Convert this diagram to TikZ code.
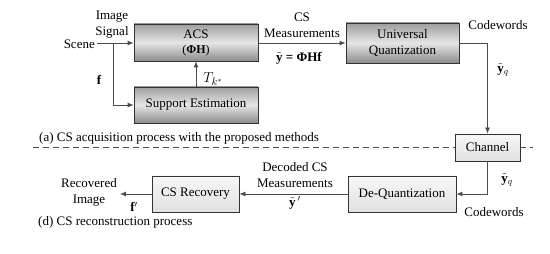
\documentclass[tikz,border=0pt]{standalone}
\usepackage{fontspec}
\setmainfont{Liberation Serif}
\usetikzlibrary{positioning,arrows.meta}

\begin{document}
\begin{tikzpicture}[
  x=1pt,y=-1pt,
  font=\fontsize{13}{16}\selectfont,
  >={Latex[length=6pt,width=5pt]},
  blockdark/.style={rectangle,draw=black!80,line width=0.8pt,align=center,
                    top color=black!38,bottom color=black!45,middle color=black!10,
                    inner sep=0pt},
  blocklight/.style={rectangle,draw=black!80,line width=0.8pt,align=center,
                     top color=black!3,bottom color=black!12,inner sep=0pt},
  arr/.style={->,line width=0.8pt,black!70},
  lbl/.style={align=center,inner sep=0pt}
]
\useasboundingbox (0,0) rectangle (550,254);

%% ================= acquisition =================
\node[blockdark,minimum width=124,minimum height=37] (acs)  at (196,42.5)
  {ACS\\[-1pt]{\fontsize{12}{14}\selectfont(\textbf{ΦH})}};
\node[blockdark,minimum width=124,minimum height=36] (supp) at (196,105) {Support Estimation};
\node[blockdark,minimum width=113,minimum height=40] (uq)   at (402.5,43) {Universal\\Quantization};

\node[lbl,anchor=east] (scene) at (95,44) {Scene};
\coordinate (tap) at (113,43);
\draw[arr] ([xshift=2pt]scene.east |- tap) -- (tap -| acs.west);
\draw[arr] (tap) |- (supp.west);
\draw[arr] (supp) -- (acs);
\draw[arr] (acs.east |- tap) -- (tap -| uq.west);

\node[lbl] (sig)   at (112,25)  {Image\\Signal};
\node[lbl] (f)     at (99,80)   {$\mathbf{f}$};
\node[lbl] (tk)    at (213,79)  {\fontsize{15}{17}\selectfont$T_{k^*}$};
\node[lbl] (meas)  at (302,25)  {CS\\Measurements};
\node[lbl] (yt)    at (299,58)  {$\tilde{\mathbf{y}}$ \textbf{= ΦHf}};
\node[lbl] (cw1)   at (498,25)  {Codewords};
\node[lbl] (yq1)   at (503,70)  {$\tilde{\mathbf{y}}_q$};

\node[lbl,anchor=west] (capa) at (39,138)
  {(a) CS acquisition process with the proposed methods};

%% ================= channel =================
\node[blocklight,minimum width=65,minimum height=27] (chan) at (487.5,147.5) {Channel};
\draw[arr] (uq.east |- tap) -| (chan.north);

\coordinate (dl) at (33,147.5);
\coordinate (dr) at (533,147.5);
\draw[black!70,line width=0.8pt,dash pattern=on 6pt off 4pt] (dl) -- (chan.west);
\draw[black!70,line width=0.8pt,dash pattern=on 6pt off 4pt] (chan.east) -- (dr);

%% ================= reconstruction =================
\node[blocklight,minimum width=108,minimum height=36] (deq) at (402,194) {De-Quantization};
\node[blocklight,minimum width=87,minimum height=36]  (rec) at (195.5,194) {CS Recovery};
\node[lbl] (recimg) at (89,192) {Recovered\\Image};

\draw[arr] (chan.south) |- (deq.east);
\draw[arr] (deq) -- (rec);
\draw[arr] (rec.west) -- ([xshift=3pt]recimg.east |- rec.west);

\node[lbl] (yq2)   at (507,180) {$\tilde{\mathbf{y}}_q$};
\node[lbl] (cw2)   at (494,212) {Codewords};
\node[lbl] (dec)   at (295,175) {Decoded CS\\Measurements};
\node[lbl] (ytp)   at (295,203) {$\tilde{\mathbf{y}}\,'$};
\node[lbl] (fp)    at (134,207) {$\mathbf{f}'$};

\node[lbl,anchor=west] (capd) at (38,222) {(d) CS reconstruction process};

\end{tikzpicture}
\end{document}
